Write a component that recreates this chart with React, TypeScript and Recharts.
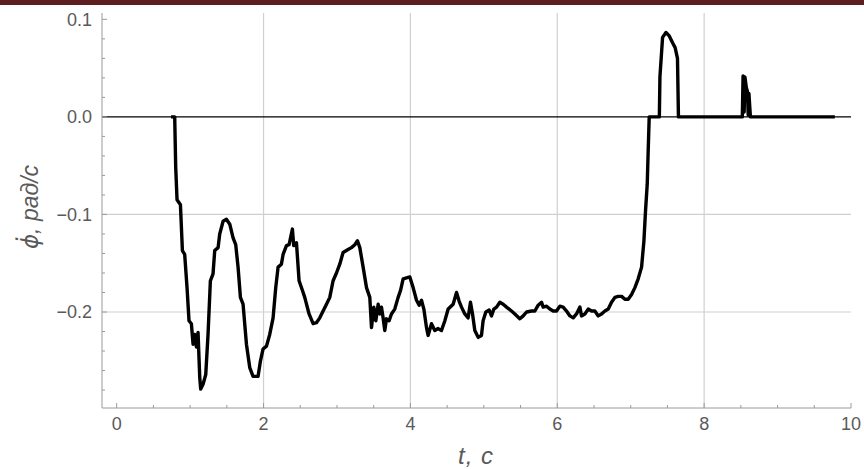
import { LineChart, Line, XAxis, YAxis, ReferenceLine } from "recharts";

// Time samples (s).
const time = [
  0.74, 0.79, 0.804, 0.822, 0.868, 0.895, 0.926, 0.958, 0.985, 1.017, 1.04, 1.063, 1.086, 1.108, 1.131, 1.144,
  1.176, 1.213, 1.244, 1.276, 1.312, 1.335, 1.381, 1.403, 1.449, 1.494, 1.54, 1.585, 1.621, 1.653, 1.685,
  1.721, 1.767, 1.812, 1.857, 1.925, 1.958, 1.993, 2.04, 2.084, 2.13, 2.166, 2.198, 2.243, 2.266, 2.312,
  2.348, 2.393, 2.411, 2.448, 2.484, 2.53, 2.561, 2.62, 2.675, 2.72, 2.766, 2.811, 2.857, 2.902, 2.947,
  2.993, 3.038, 3.083, 3.151, 3.197, 3.243, 3.279, 3.311, 3.356, 3.402, 3.447, 3.47, 3.501, 3.529, 3.561,
  3.583, 3.606, 3.628, 3.651, 3.674, 3.71, 3.742, 3.787, 3.833, 3.865, 3.901, 3.947, 3.992, 4.037, 4.083,
  4.119, 4.151, 4.183, 4.219, 4.241, 4.287, 4.332, 4.378, 4.423, 4.469, 4.514, 4.582, 4.628, 4.664, 4.696,
  4.741, 4.786, 4.818, 4.846, 4.877, 4.923, 4.968, 4.99, 5.027, 5.073, 5.104, 5.136, 5.173, 5.218, 5.263,
  5.309, 5.377, 5.422, 5.49, 5.536, 5.582, 5.65, 5.695, 5.74, 5.786, 5.808, 5.854, 5.899, 5.944, 5.99,
  6.035, 6.08, 6.126, 6.172, 6.217, 6.262, 6.308, 6.33, 6.376, 6.421, 6.467, 6.512, 6.558, 6.603, 6.649,
  6.694, 6.739, 6.785, 6.83, 6.876, 6.921, 6.966, 7.012, 7.057, 7.102, 7.148, 7.18, 7.202, 7.225, 7.238,
  7.252, 7.39, 7.398, 7.434, 7.48, 7.525, 7.57, 7.605, 7.637, 7.65, 8.52, 8.53, 8.545, 8.555, 8.575, 8.59,
  8.6, 8.61, 8.63, 9.78,
];

// Angular rate (rad/s) at each time sample.
const rate = [
  0, 0, -0.052, -0.085, -0.09, -0.137, -0.141, -0.175, -0.209, -0.212, -0.233, -0.223, -0.236, -0.221, -0.267, -0.279,
  -0.274, -0.264, -0.223, -0.168, -0.161, -0.137, -0.134, -0.12, -0.107, -0.105, -0.11, -0.124, -0.131, -0.154, -0.185,
  -0.192, -0.233, -0.257, -0.266, -0.266, -0.25, -0.238, -0.235, -0.223, -0.206, -0.175, -0.154, -0.151, -0.141, -0.132,
  -0.131, -0.115, -0.132, -0.129, -0.168, -0.178, -0.185, -0.202, -0.212, -0.211, -0.206, -0.199, -0.192, -0.185, -0.168,
  -0.16, -0.151, -0.139, -0.136, -0.134, -0.131, -0.127, -0.134, -0.154, -0.175, -0.185, -0.216, -0.195, -0.209, -0.192,
  -0.202, -0.195, -0.206, -0.219, -0.207, -0.209, -0.202, -0.197, -0.185, -0.178, -0.166, -0.165, -0.164, -0.175, -0.188,
  -0.193, -0.188, -0.197, -0.216, -0.224, -0.212, -0.219, -0.217, -0.219, -0.209, -0.197, -0.192, -0.18, -0.189, -0.195,
  -0.202, -0.206, -0.19, -0.202, -0.219, -0.226, -0.224, -0.209, -0.2, -0.198, -0.204, -0.197, -0.195, -0.19, -0.192,
  -0.195, -0.199, -0.202, -0.207, -0.204, -0.2, -0.199, -0.199, -0.193, -0.19, -0.195, -0.194, -0.197, -0.199, -0.199,
  -0.194, -0.195, -0.199, -0.204, -0.206, -0.202, -0.195, -0.204, -0.202, -0.197, -0.199, -0.199, -0.204, -0.202, -0.199,
  -0.197, -0.19, -0.185, -0.184, -0.184, -0.187, -0.187, -0.182, -0.175, -0.166, -0.154, -0.127, -0.096, -0.069, -0.035,
  0, 0, 0.041, 0.0815, 0.0865, 0.083, 0.076, 0.071, 0.06, 0, 0, 0.042, 0.005, 0.041, 0.03, 0.026,
  0.002, 0.024, 0, 0,
];

const xTicks = [0, 0.5, 1, 1.5, 2, 2.5, 3, 3.5, 4, 4.5, 5, 5.5, 6, 6.5, 7, 7.5, 8, 8.5, 9, 9.5, 10];
const xMajorTicks = [0, 2, 4, 6, 8, 10];
const xTickLabels = ["0", "2", "4", "6", "8", "10"];

const yTicks = [
  -0.28, -0.26, -0.24, -0.22, -0.2, -0.18, -0.16, -0.14, -0.12, -0.1,
  -0.08, -0.06, -0.04, -0.02, 0, 0.02, 0.04, 0.06, 0.08, 0.1,
];
const yMajorTicks = [-0.2, -0.1, 0, 0.1];
const yTickLabels = ["\u22120.2", "\u22120.1", "0.0", "0.1"];

const xGridLines = [2, 4, 6, 8];
const yGridLines = [-0.2, -0.1];

const data = time.map((t, i) => ({ t, rate: rate[i] }));

const FRAME = "#9a9a9a";
const GRID = "#d0d0d0";
const LABEL = "#5a5a5a";
const FONT = "'Liberation Sans', Arial, sans-serif";

// tick marks drawn inward on the frame, labels only on the major ones
function BottomTick({ x, y, payload }: any) {
  const i = xMajorTicks.indexOf(payload.value);
  return (
    <g>
      <line x1={x} x2={x} y1={y} y2={y - (i >= 0 ? 5 : 3)} stroke={FRAME} />
      {i >= 0 && (
        <text x={x} y={y + 22} textAnchor="middle" fill={LABEL} fontSize={18} fontFamily={FONT}>
          {xTickLabels[i]}
        </text>
      )}
    </g>
  );
}

function TopTick({ x, y, payload }: any) {
  const major = xMajorTicks.includes(payload.value);
  return <line x1={x} x2={x} y1={y} y2={y + (major ? 5 : 3)} stroke={FRAME} />;
}

function LeftTick({ x, y, payload }: any) {
  const i = yMajorTicks.indexOf(payload.value);
  return (
    <g>
      <line x1={x} x2={x + (i >= 0 ? 5 : 3)} y1={y} y2={y} stroke={FRAME} />
      {i >= 0 && (
        <text x={x - 10} y={y} dy="0.36em" textAnchor="end" fill={LABEL} fontSize={18} fontFamily={FONT}>
          {yTickLabels[i]}
        </text>
      )}
    </g>
  );
}

function RightTick({ x, y, payload }: any) {
  const major = yMajorTicks.includes(payload.value);
  return <line x1={x} x2={x - (major ? 5 : 3)} y1={y} y2={y} stroke={FRAME} />;
}

export default function App() {
  const xDomain = [-0.2, 10];
  const yDomain = [-0.2984, 0.1065];
  return (
    <div style={{ position: "absolute", left: 0, top: 0, width: 864, height: 469, background: "#fff" }}>
      <div style={{ position: "absolute", left: 0, top: 0, width: 864, height: 5, background: "#5e1e20" }} />
      <LineChart width={864} height={469} data={data} margin={{ top: 13, right: 13, bottom: 0, left: 12 }}>
        <XAxis
          dataKey="t"
          type="number"
          domain={xDomain}
          ticks={xTicks}
          interval={0}
          allowDataOverflow
          height={61}
          tickSize={0}
          tickMargin={0}
          tickLine={false}
          axisLine={{ stroke: FRAME }}
          tick={<BottomTick />}
        />
        <XAxis
          xAxisId="top"
          orientation="top"
          dataKey="t"
          type="number"
          domain={xDomain}
          ticks={xTicks}
          interval={0}
          allowDataOverflow
          height={0}
          tickSize={0}
          tickMargin={0}
          tickLine={false}
          axisLine={{ stroke: FRAME }}
          tick={<TopTick />}
        />
        <YAxis
          type="number"
          domain={yDomain}
          ticks={yTicks}
          interval={0}
          allowDataOverflow
          width={90}
          tickSize={0}
          tickMargin={0}
          tickLine={false}
          axisLine={{ stroke: FRAME }}
          tick={<LeftTick />}
        />
        <YAxis
          yAxisId="right"
          orientation="right"
          type="number"
          domain={yDomain}
          ticks={yTicks}
          interval={0}
          allowDataOverflow
          width={0}
          tickSize={0}
          tickMargin={0}
          tickLine={false}
          axisLine={{ stroke: FRAME }}
          tick={<RightTick />}
        />
        {xGridLines.map((v) => (
          <ReferenceLine key={`gx-${v}`} x={v} stroke={GRID} strokeWidth={1.2} />
        ))}
        {yGridLines.map((v) => (
          <ReferenceLine key={`gy-${v}`} y={v} stroke={GRID} strokeWidth={1.2} />
        ))}
        <ReferenceLine y={0} stroke="#000" strokeWidth={1.4} />
        <Line
          dataKey="rate"
          type="linear"
          stroke="#000"
          strokeWidth={3.4}
          dot={false}
          isAnimationActive={false}
          strokeLinejoin="round"
        />
      </LineChart>
      <div
        style={{
          position: "absolute",
          left: 476,
          top: 456,
          transform: "translate(-50%, -50%)",
          fontFamily: FONT,
          fontStyle: "italic",
          fontSize: 24,
          letterSpacing: 1,
          color: LABEL,
          whiteSpace: "nowrap",
        }}
      >
        t, c
      </div>
      <div
        style={{
          position: "absolute",
          left: 30,
          top: 207,
          transform: "translate(-50%, -50%) rotate(-90deg)",
          fontFamily: FONT,
          fontStyle: "italic",
          fontSize: 23,
          color: LABEL,
          whiteSpace: "nowrap",
        }}
      >
        <span style={{ fontFamily: "'DejaVu Sans', sans-serif" }}>{"\u03D5\u0307"}</span>
        {", рад/с"}
      </div>
    </div>
  );
}
